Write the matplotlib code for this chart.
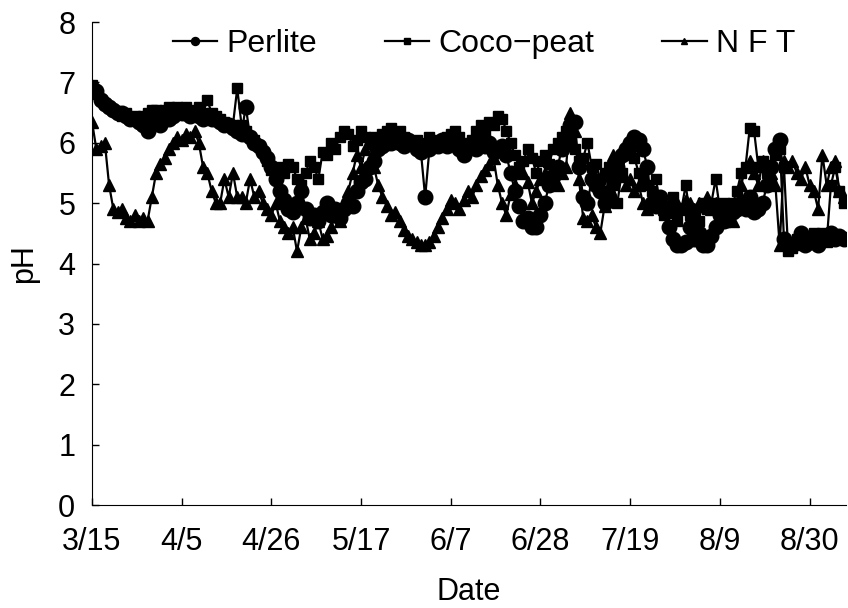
import matplotlib.pyplot as plt
import pandas as pd

# daily pH readings of the nutrient solution, starting 3/15

perlite = [
    6.9, 6.85, 6.7, 6.65, 6.6, 6.55, 6.5, 6.5, 6.45, 6.4,
    6.4, 6.35, 6.3, 6.2, 6.35, 6.4, 6.3, 6.45, 6.4, 6.45,
    6.5, 6.5, 6.5, 6.45, 6.5, 6.45, 6.4, 6.45, 6.4, 6.4,
    6.35, 6.3, 6.3, 6.25, 6.2, 6.15, 6.6, 6.1, 6.0, 5.95,
    5.85, 5.75, 5.6, 5.4, 5.2, 5.05, 4.9, 4.85, 5.0, 5.2,
    4.9, 4.75, 4.8, 4.7, 4.85, 5.0, 4.8, 4.9, 4.75, 4.9,
    5.0, 4.95, 5.2, 5.35, 5.4, 5.6, 5.7, 5.9, 5.95, 6.0,
    6.0, 6.05, 6.0, 5.95, 6.05, 6.0, 5.9, 5.85, 5.1, 5.9,
    6.0, 5.95, 6.05, 5.95, 6.0, 6.05, 5.9, 5.8, 5.95, 6.0,
    5.9, 6.05, 5.95, 6.0, 5.85, 5.9, 5.95, 5.8, 5.5, 5.2,
    4.95, 4.7, 4.75, 4.6, 4.6, 4.8, 5.0, 5.3, 5.45, 5.6,
    5.9, 6.1, 6.3, 6.35, 5.6, 5.1, 5.0, 5.4, 5.3, 5.2,
    5.0, 5.1, 5.4, 5.6, 5.8, 5.9, 6.0, 6.1, 6.05, 5.9,
    5.6, 5.0, 4.95, 5.1, 4.9, 4.6, 4.4, 4.3, 4.3, 4.35,
    4.6, 4.4, 4.5, 4.3, 4.3, 4.45, 4.6, 4.8, 4.7, 4.9,
    4.85, 4.9, 5.0, 4.9, 5.1, 4.85, 4.9, 5.0, 5.3, 5.6,
    5.9, 6.05, 4.4, 4.3, 4.3, 4.35, 4.5, 4.3, 4.35, 4.4,
    4.3, 4.45, 4.4, 4.5, 4.4, 4.45, 4.4,
]

cocopeat = [
    6.95, 6.8, 6.7, 6.65, 6.6, 6.55, 6.5, 6.45, 6.5, 6.4,
    6.45, 6.4, 6.45, 6.5, 6.55, 6.55, 6.5, 6.55, 6.6, 6.55,
    6.6, 6.55, 6.6, 6.55, 6.5, 6.6, 6.5, 6.7, 6.5, 6.45,
    6.4, 6.35, 6.3, 6.3, 6.9, 6.3, 6.2, 6.1, 6.05, 5.95,
    5.85, 5.7, 5.55, 5.45, 5.6, 5.5, 5.65, 5.6, 5.4, 5.3,
    5.5, 5.7, 5.6, 5.4, 5.85, 5.8, 6.0, 5.9, 6.1, 6.2,
    6.15, 5.95, 6.05, 6.2, 6.1, 6.05, 6.1, 6.0, 6.15, 6.2,
    6.25, 6.15, 6.2, 6.1, 6.05, 6.0, 6.05, 5.95, 6.0, 6.1,
    6.05, 5.95, 6.0, 6.1, 6.15, 6.2, 6.1, 6.0, 5.9, 6.05,
    6.2, 6.3, 6.2, 6.35, 6.3, 6.45, 6.4, 6.2, 6.0, 5.8,
    5.6, 5.7, 5.9, 5.75, 5.5, 5.7, 5.8, 5.65, 5.9, 6.0,
    6.1, 6.2, 6.0, 5.9, 5.7, 5.75, 6.0, 5.6, 5.65, 5.4,
    5.5, 5.6, 5.3, 5.0, 5.5, 5.8, 5.9, 5.75, 5.5, 5.4,
    5.3, 5.2, 5.4, 5.0, 4.8, 4.9, 5.1, 4.7, 4.9, 5.3,
    4.8, 4.9, 4.7, 5.0, 4.9, 5.0, 5.4, 4.9, 5.0, 4.8,
    5.0, 5.2, 5.5, 5.6, 6.25, 6.2, 5.6, 5.7, 5.5, 5.3,
    5.8, 5.9, 5.6, 4.2, 4.25, 4.4, 4.3, 4.45, 4.35, 4.5,
    4.4, 4.5, 4.35, 5.3, 5.6, 5.2, 5.0,
]

nft = [
    6.35, 5.9, 5.95, 6.0, 5.3, 4.9, 4.85, 4.9, 4.75, 4.7,
    4.8, 4.7, 4.75, 4.7, 5.1, 5.5, 5.65, 5.75, 5.9, 6.0,
    6.1, 6.05, 6.15, 6.1, 6.2, 6.0, 5.6, 5.5, 5.2, 5.0,
    5.0, 5.4, 5.1, 5.5, 5.1, 5.1, 5.0, 5.4, 5.1, 5.2,
    5.0, 4.9, 4.8, 5.0, 4.7, 4.6, 4.5, 4.6, 4.2, 4.6,
    4.75, 4.4, 4.5, 4.7, 4.4, 4.45, 4.6, 4.8, 4.7, 5.0,
    5.2, 5.5, 5.8, 5.6, 5.9, 6.0, 5.6, 5.3, 5.1, 4.95,
    4.8, 4.85, 4.7, 4.55, 4.45, 4.4, 4.35, 4.3, 4.3, 4.35,
    4.45, 4.6, 4.75, 4.9, 5.05, 5.0, 4.9, 5.05, 5.2, 5.1,
    5.3, 5.45, 5.55, 5.65, 5.75, 5.3, 5.0, 4.8, 5.15, 5.3,
    5.55, 5.5, 5.35, 5.0, 5.2, 5.4, 5.5, 5.7, 5.4, 5.3,
    5.5, 5.6, 6.5, 6.2, 5.4, 4.75, 4.7, 4.8, 4.6, 4.5,
    4.95, 5.5, 5.8, 5.6, 5.45, 5.3, 5.4, 5.2, 5.3, 5.0,
    4.9, 5.0, 4.95, 5.1, 4.9, 5.0, 4.85, 5.0, 4.9, 5.05,
    5.0, 4.9, 5.0, 4.95, 5.1, 4.9, 5.0, 4.85, 4.7, 4.75,
    4.7, 5.0, 5.3, 5.6, 5.7, 5.5, 5.3, 5.7, 5.4, 5.5,
    5.3, 4.3, 5.7, 5.6, 5.7, 5.5, 5.4, 5.6, 5.3, 5.2,
    4.9, 5.8, 5.3, 5.6, 5.7, 5.2, 5.1,
]

tick_labels = ['3/15', '4/5', '4/26', '5/17', '6/7', '6/28', '7/19', '8/9', '8/30']

dates = pd.date_range('2003-03-15', periods=len(perlite), freq='D')
tick_dates = pd.date_range('2003-03-15', periods=len(tick_labels), freq='21D')

plt.rcParams['font.family'] = ['Liberation Sans', 'DejaVu Sans']

fig = plt.figure(figsize=(8.48, 6.08), dpi=100)
ax = fig.add_axes([0.1085, 0.1694, 0.889, 0.7944])

ax.plot(dates, perlite, color='black', lw=1.6, marker='o', ms=10.5, label='Perlite')
ax.plot(dates, cocopeat, color='black', lw=1.6, marker='s', ms=7.5, label='Coco\u2212peat')
ax.plot(dates, nft, color='black', lw=1.6, marker='^', ms=8.5, label='N F T')

ax.set_xlim(dates[0], dates[0] + pd.Timedelta(days=176.5))
ax.set_ylim(0, 8)
ax.set_xticks(tick_dates)
ax.set_xticklabels(tick_labels)
ax.set_yticks(range(0, 9))

for side in ('top', 'right'):
    ax.spines[side].set_visible(False)
ax.tick_params(direction='in', length=5, width=1.0, labelsize=22)
ax.tick_params(axis='x', pad=16)
ax.tick_params(axis='y', pad=12)

ax.set_xlabel('Date', fontsize=22, labelpad=14)
ax.set_ylabel('pH', fontsize=22, labelpad=14)

ax.legend(loc='upper center', bbox_to_anchor=(0.52, 1.045), ncol=3, frameon=False,
          fontsize=23, handlelength=1.4, handletextpad=0.3, columnspacing=2.1,
          markerscale=0.55)

fig.savefig('out.png', dpi=100)
